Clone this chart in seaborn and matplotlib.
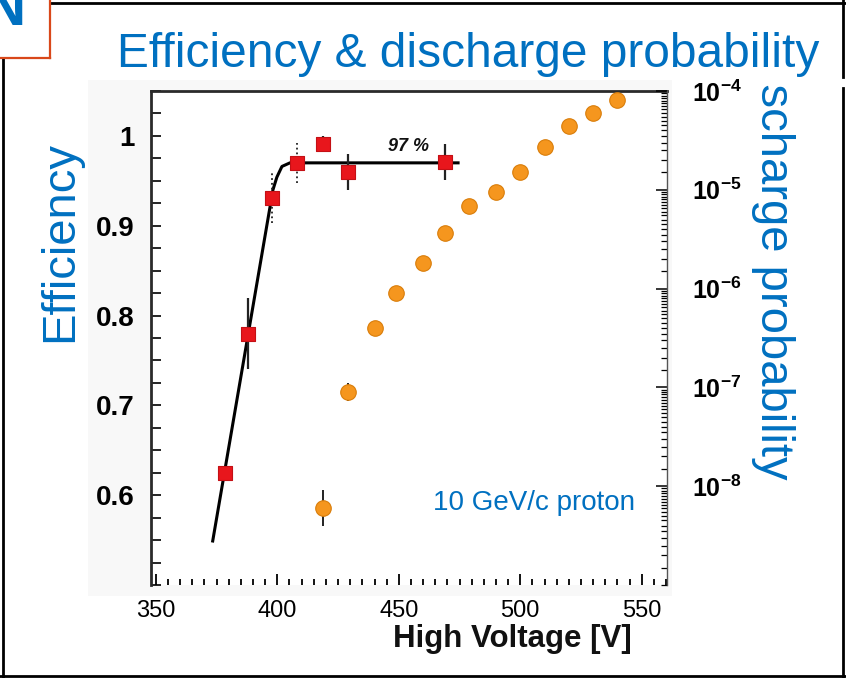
import numpy as np
import matplotlib
matplotlib.use("Agg")
import matplotlib.pyplot as plt
from matplotlib import font_manager as fm
from matplotlib.ticker import MultipleLocator, LogLocator, FixedLocator, NullFormatter, FuncFormatter
from matplotlib.transforms import Bbox, TransformedBbox
from matplotlib.patches import Rectangle
from matplotlib.lines import Line2D
import seaborn as sns

# ---- efficiency scan (red squares, left axis) ----
eff_hv = [378.5, 388, 398, 408, 419, 429, 469]
eff_val = [0.625, 0.78, 0.931, 0.97, 0.991, 0.96, 0.971]
eff_err = [0.0, 0.04, 0.028, 0.022, 0.009, 0.02, 0.02]
eff_err_dotted = [False, False, True, True, False, False, False]

# ---- turn-on fit with plateau ----
fit_hv = [373.4, 398.2, 399.8, 401.9, 405.2, 474.4]
fit_eff = [0.549, 0.94, 0.954, 0.966, 0.97, 0.97]
plateau_label = "97 %"

# ---- discharge probability (orange circles, right log axis) ----
dis_hv = [419, 429, 440, 449, 460, 469, 479, 490, 500, 510, 520, 530, 540]
dis_prob = [6.0e-9, 9.0e-8, 4.0e-7, 9.0e-7, 1.8e-6, 3.65e-6, 6.85e-6,
            9.5e-6, 1.51e-5, 2.71e-5, 4.42e-5, 5.99e-5, 8.1e-5]
dis_err_lo = [2.0e-9, 1.7e-8] + [0.0] * 11
dis_err_hi = [3.1e-9, 2.0e-8] + [0.0] * 11

eff_ticks = [0.6, 0.7, 0.8, 0.9, 1.0]
prob_ticks = [1e-8, 1e-7, 1e-6, 1e-5, 1e-4]
title = "Efficiency & discharge probability"
beam_note = "10 GeV/c proton"

BLUE = "#0070C0"
RED = "#E8161C"
ORANGE = "#F5961E"

names = {f.name for f in fm.fontManager.ttflist}
narrow = "Liberation Sans Narrow" if "Liberation Sans Narrow" in names else "Liberation Sans"
plt.rcParams["font.family"] = ["Liberation Sans", "DejaVu Sans"]
plt.rcParams["mathtext.fontset"] = "custom"
plt.rcParams["mathtext.rm"] = narrow
plt.rcParams["mathtext.bf"] = f"{narrow}:bold"

W, H = 846, 678
fig = plt.figure(figsize=(W / 100, H / 100), dpi=100)
fig.patch.set_facecolor("white")


def fx(x):
    return x / W


def fy(y):
    return 1 - y / H


# light backdrop of the embedded plot
fig.add_artist(Rectangle((fx(88), fy(596)), fx(672) - fx(88), fy(80) - fy(596),
                         transform=fig.transFigure, facecolor="#f8f8f8",
                         edgecolor="none", zorder=0))

ax = fig.add_axes([fx(151), fy(585), fx(667) - fx(151), fy(91) - fy(585)])
ax.set_facecolor("white")
ax2 = ax.twinx()

# fit line and efficiency points
sns.lineplot(x=fit_hv, y=fit_eff, ax=ax, color="black", lw=2.2,
             sort=False, estimator=None, zorder=2)
for hv, v, e, dot in zip(eff_hv, eff_val, eff_err, eff_err_dotted):
    if e > 0:
        ax.errorbar([hv], [v], yerr=[e], fmt="none", ecolor="#222222",
                    elinewidth=1.6 if not dot else 1.3, capsize=0, zorder=3)
        if dot:
            ax.containers[-1].lines[2][0].set_linestyle(":")
sns.scatterplot(x=eff_hv, y=eff_val, ax=ax, marker="s", s=110, color=RED,
                edgecolor="#c41015", linewidth=0.8, zorder=4)
ax.text(453.8, 0.988, plateau_label, fontsize=13, fontweight="bold",
        fontstyle="italic", ha="center", va="center", color="#111111")

# discharge probability
ax2.errorbar(dis_hv, dis_prob, yerr=[dis_err_lo, dis_err_hi], fmt="none",
             ecolor="#222222", elinewidth=1.4, capsize=0, zorder=2)
sns.scatterplot(x=dis_hv, y=dis_prob, ax=ax2, marker="o", s=125, color=ORANGE,
                edgecolor="#d97d0a", linewidth=0.8, zorder=3)
ax2.set_yscale("log")

# limits
ax.set_xlim(348, 560.4)
ax.set_ylim(0.5, 1.05)
ax2.set_ylim(1e-9, 1e-4)

# spines
for s in ("right", "bottom"):
    ax.spines[s].set_visible(False)
ax.spines["top"].set_linewidth(2.0)
ax.spines["top"].set_color("#2a2a2a")
ax.spines["left"].set_linewidth(2.0)
ax.spines["left"].set_color("#2a2a2a")
for s in ("left", "top", "bottom"):
    ax2.spines[s].set_visible(False)
ax2.spines["right"].set_linewidth(1.0)
ax2.spines["right"].set_color("#555555")

# x ticks
ax.xaxis.set_major_locator(MultipleLocator(50))
ax.xaxis.set_minor_locator(MultipleLocator(5))
ax.tick_params(axis="x", which="major", direction="in", length=8, width=1.3,
               labelsize=17, pad=11, colors="black")
ax.tick_params(axis="x", which="minor", direction="in", length=4, width=1.3)
ax.tick_params(axis="x", top=False)

# left y ticks
ax.yaxis.set_major_locator(FixedLocator(eff_ticks))
ax.yaxis.set_major_formatter(FuncFormatter(lambda v, _: f"{v:g}"))
ax.yaxis.set_minor_locator(MultipleLocator(0.025))
ax.tick_params(axis="y", which="both", direction="in", length=7, width=1.2,
               pad=12)
for lab in ax.get_yticklabels():
    lab.set_fontfamily(narrow)
    lab.set_fontweight("bold")
    lab.set_fontsize(20)

# right log ticks
ax2.yaxis.set_major_locator(FixedLocator(prob_ticks))
ax2.yaxis.set_minor_locator(LogLocator(base=10, subs=np.arange(1.0, 10.0, 0.5), numticks=50))
ax2.yaxis.set_minor_formatter(NullFormatter())
ax2.yaxis.set_major_formatter(
    FuncFormatter(lambda v, _: r"$\mathbf{10^{%d}}$" % int(round(np.log10(v)))))
ax2.tick_params(axis="y", which="major", direction="in", length=8, width=1.1,
                labelsize=18, pad=18)
ax2.tick_params(axis="y", which="minor", direction="in", length=4, width=0.9)

# axis titles
ax.set_xlabel("High Voltage [V]", fontsize=22.5, fontweight="bold", color="#111111")
ax.xaxis.label.set_va("baseline")
ax.xaxis.label.set_ha("center")
ax.xaxis.set_label_coords((512.5 - 151) / 516, (585 - 647) / 494)

ax.set_ylabel("Efficiency", fontsize=34, color=BLUE)
ax.yaxis.label.set_va("center")
ax.yaxis.set_label_coords((60 - 151) / 516, (585 - 241) / 494)

ax2.set_ylabel("Discharge probability", fontsize=34, color=BLUE, rotation=270)
ax2.yaxis.label.set_va("center")
ax2.yaxis.label.set_ha("center")
ax2.yaxis.set_label_coords((773 - 151) / 516, (585 - 259) / 494)
ax2.yaxis.label.set_clip_box(TransformedBbox(Bbox([[0, 0], [1, fy(82)]]), fig.transFigure))
ax2.yaxis.label.set_clip_on(True)

ax.text((433 - 151) / 516, (585 - 510) / 494, beam_note, transform=ax.transAxes,
        fontsize=20, color=BLUE, ha="left", va="baseline")

# slide title
fig.text(fx(117), fy(67), title, fontsize=34.5, color=BLUE, ha="left", va="baseline")

# slide frame and corner tab
frame = dict(transform=fig.transFigure, color="black", lw=2.0, zorder=5)
fig.add_artist(Line2D([fx(50), fx(846)], [fy(3), fy(3)], **frame))
fig.add_artist(Line2D([fx(3), fx(3)], [fy(58), fy(678)], **frame))
fig.add_artist(Line2D([fx(0), fx(846)], [fy(676), fy(676)], **frame))
fig.add_artist(Line2D([fx(843), fx(843)], [fy(0), fy(77)], **frame))
fig.add_artist(Line2D([fx(843), fx(843)], [fy(88), fy(678)], **frame))
tab = dict(transform=fig.transFigure, color="#D9481A", lw=1.6, zorder=6)
fig.add_artist(Line2D([fx(50), fx(50)], [fy(0), fy(58)], **tab))
fig.add_artist(Line2D([fx(0), fx(50)], [fy(58), fy(58)], **tab))
fig.text(fx(25), fy(25), "N", fontsize=41, fontweight="bold", color=BLUE,
         ha="right", va="baseline")

fig.savefig("out.png", dpi=100, facecolor="white")
